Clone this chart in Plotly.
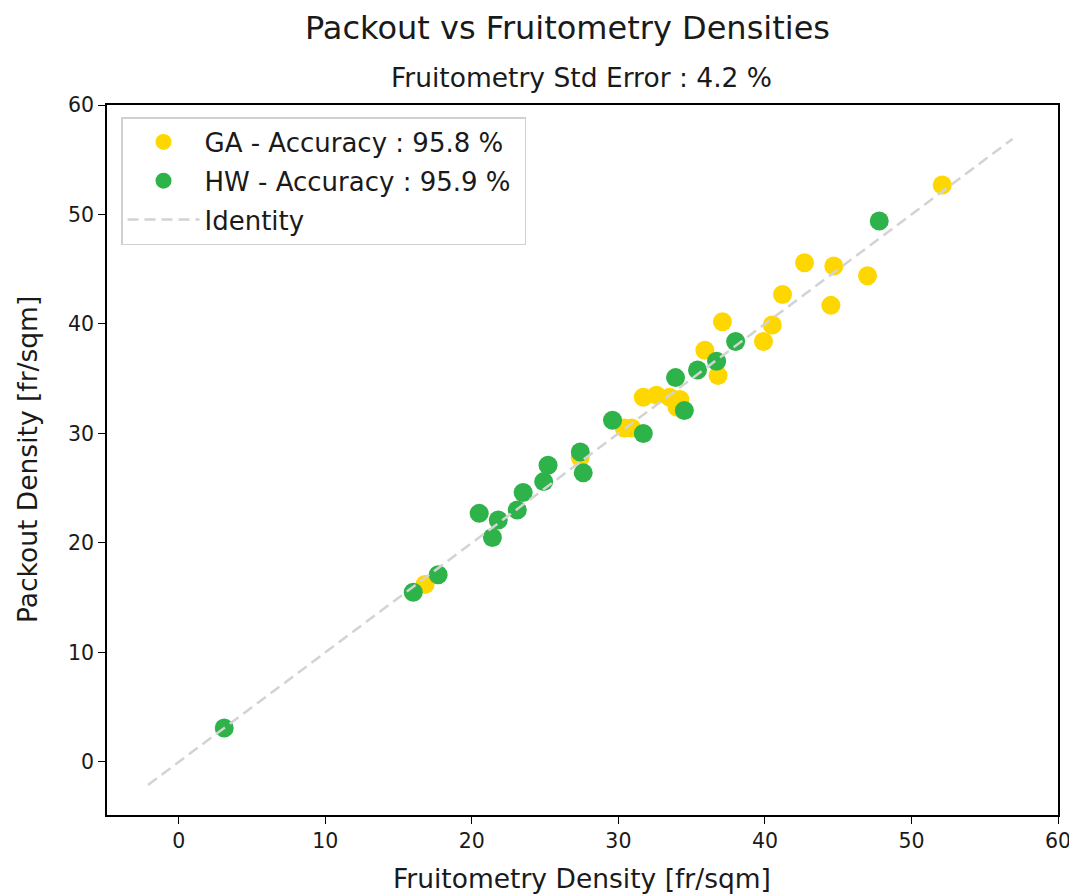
import plotly.graph_objects as go

ga_x = [52.1, 42.7, 44.7, 47.0, 41.2, 44.5, 37.1, 40.5, 39.9, 35.9, 36.8, 31.7, 32.6, 33.5, 34.2, 34.0, 30.4, 30.9, 27.4, 16.8]
ga_y = [52.7, 45.6, 45.3, 44.4, 42.7, 41.7, 40.2, 39.9, 38.4, 37.6, 35.3, 33.3, 33.5, 33.3, 33.1, 32.4, 30.5, 30.5, 27.8, 16.2]

hw_x = [47.8, 38.0, 36.7, 35.4, 33.9, 34.5, 29.6, 31.7, 27.4, 27.6, 25.2, 24.9, 23.5, 23.1, 20.5, 21.8, 21.4, 17.7, 16.0, 3.1]
hw_y = [49.4, 38.4, 36.6, 35.8, 35.1, 32.1, 31.2, 30.0, 28.3, 26.4, 27.1, 25.6, 24.6, 23.0, 22.7, 22.1, 20.5, 17.1, 15.5, 3.1]

identity = [-2.1, 56.9]
ticks = [0, 10, 20, 30, 40, 50, 60]

FONT = "DejaVu Sans"
TXT = "#1a1a1a"
GOLD = "#FFD700"
GREEN = "#2DB34A"

# The page body has an 8px margin; size the figure so it ends at the window edge
OFF = 8
W, H = 1077 - OFF, 896 - OFF
ML, MR, MT, MB = 107 - OFF, 19, 105 - OFF, 81

fig = go.Figure()
fig.add_trace(go.Scatter(x=ga_x, y=ga_y, mode="markers", name="GA - Accuracy : 95.8 %&nbsp;",
                         legendgroup="a",
                         marker=dict(color=GOLD, size=19, line=dict(width=0))))
fig.add_trace(go.Scatter(x=hw_x, y=hw_y, mode="markers", name="HW - Accuracy : 95.9 %&nbsp;",
                         legendgroup="b",
                         marker=dict(color=GREEN, size=19, line=dict(width=0))))
fig.add_trace(go.Scatter(x=identity, y=identity, mode="lines", name="Identity",
                         legendgroup="c",
                         line=dict(color="#d3d3d3", width=2.5, dash="11px,6px")))

axis_common = dict(
    showgrid=False, zeroline=False, showline=True, linecolor="black", linewidth=1.5,
    mirror=True, ticks="outside", ticklen=7, tickwidth=1.3, tickcolor="black",
    tickfont=dict(family=FONT, size=20.5, color=TXT),
    tickvals=ticks, automargin=False,
)
fig.update_xaxes(range=[-4.9, 60], **axis_common)
fig.update_yaxes(range=[-4.85, 60], **axis_common)

W_plot = W - ML - MR
H_plot = H - MT - MB
def px2paper(px, py):
    # px, py are window pixel positions in the reference
    px -= OFF
    py -= OFF
    return (px - ML) / W_plot, (H - MB - py) / H_plot

tx, ty = px2paper(567, 28)
sx, sy = px2paper(581, 77)
xx, xy = px2paper(582, 878)
yx, yy = px2paper(27, 460)
lx, ly = px2paper(121, 117)

fig.update_layout(
    width=W, height=H,
    margin=dict(l=ML, r=MR, t=MT, b=MB),
    plot_bgcolor="white", paper_bgcolor="white",
    font=dict(family=FONT, color=TXT),
    legend=dict(x=lx, y=ly, xanchor="left", yanchor="top",
                bordercolor="#d0d0d0", borderwidth=1.5, bgcolor="white",
                font=dict(family=FONT, size=26, color=TXT),
                tracegroupgap=2, traceorder="grouped", itemwidth=72),
    annotations=[
        dict(text="Packout vs Fruitometry Densities", x=tx, y=ty, xref="paper", yref="paper",
             showarrow=False, xanchor="center", yanchor="middle",
             font=dict(family=FONT, size=32, color=TXT)),
        dict(text="Fruitometry Std Error : 4.2 %", x=sx, y=sy, xref="paper", yref="paper",
             showarrow=False, xanchor="center", yanchor="middle",
             font=dict(family=FONT, size=26.5, color=TXT)),
        dict(text="Fruitometry Density [fr/sqm]", x=xx, y=xy, xref="paper", yref="paper",
             showarrow=False, xanchor="center", yanchor="middle",
             font=dict(family=FONT, size=26.5, color=TXT)),
        dict(text="Packout Density [fr/sqm]", x=yx, y=yy, xref="paper", yref="paper",
             showarrow=False, xanchor="center", yanchor="middle", textangle=-90,
             font=dict(family=FONT, size=26.5, color=TXT)),
    ],
)

fig.write_html("out.html")
